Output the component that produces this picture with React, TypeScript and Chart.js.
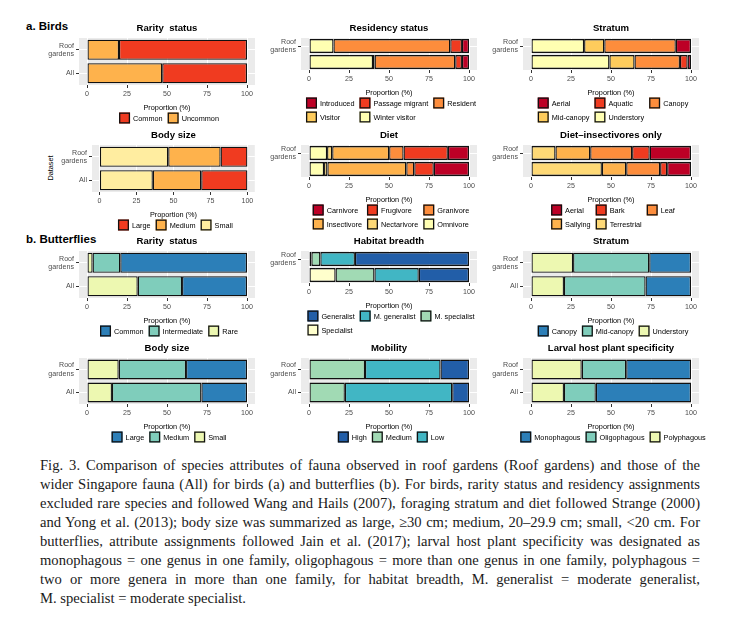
import React, { useEffect, useRef } from "react";
import { Chart, registerables } from "chart.js";
Chart.register(...registerables);

// ---------- shared axis data ----------
const datasetCategories = [["Roof", "gardens"], "All"];
const proportionTicks = [0, 25, 50, 75, 100];
const axisTitle = "Proportion (%)";

// ---------- a. Birds ----------
const birdRarityLevels = ["Common", "Uncommon"];
const birdRarityRoof = [80, 20];
const birdRarityAll = [53, 47];
const birdRarityStack = ["Uncommon", "Common"];

const birdResidencyLevels = ["Introduced", "Passage migrant", "Resident", "Visitor", "Winter visitor"];
const birdResidencyRoof = [4.4, 7.3, 73, 0, 15.3];
const birdResidencyAll = [4.4, 4.2, 50.4, 1, 40];
const birdResidencyStack = ["Winter visitor", "Visitor", "Resident", "Passage migrant", "Introduced"];

const birdStratumLevels = ["Aerial", "Aquatic", "Canopy", "Mid-canopy", "Understory"];
const birdStratumRoof = [9.5, 0, 44.7, 12.6, 33.2];
const birdStratumAll = [2.1, 4.8, 28.4, 15.7, 49];
const birdStratumStack = ["Understory", "Mid-canopy", "Canopy", "Aquatic", "Aerial"];

const birdBodyLevels = ["Large", "Medium", "Small"];
const birdBodyRoof = [18.1, 35.4, 46.5];
const birdBodyAll = [31.2, 32.7, 36.1];
const birdBodyStack = ["Small", "Medium", "Large"];

const birdDietLevels = ["Carnivore", "Frugivore", "Granivore", "Insectivore", "Nectarivore", "Omnivore"];
const birdDietRoof = [13.2, 27.7, 9, 35.6, 3.2, 11.3];
const birdDietAll = [22, 12.2, 5, 49.3, 2.1, 9.4];
const birdDietStack = ["Omnivore", "Nectarivore", "Insectivore", "Granivore", "Frugivore", "Carnivore"];

const birdInsectLevels = ["Aerial", "Bark", "Leaf", "Sallying", "Terrestrial"];
const birdInsectRoof = [25.8, 11, 26.2, 21.7, 15.3];
const birdInsectAll = [14.9, 4.4, 21.2, 15.2, 44.3];
const birdInsectStack = ["Terrestrial", "Sallying", "Leaf", "Bark", "Aerial"];

// ---------- b. Butterflies ----------
const butRarityLevels = ["Common", "Intermediate", "Rare"];
const butRarityRoof = [79.2, 17.3, 3.5];
const butRarityAll = [40.6, 27.7, 31.7];
const butRarityStack = ["Rare", "Intermediate", "Common"];

const butHabitatLevels = ["Generalist", "M. generalist", "M. specialist", "Specialist"];
const butHabitatRoof = [71.3, 21.6, 5.6, 1.5];
const butHabitatAll = [31.4, 27.7, 24.3, 16.6];
const butHabitatStack = ["Specialist", "M. specialist", "M. generalist", "Generalist"];

const butStratumLevels = ["Canopy", "Mid-canopy", "Understory"];
const butStratumRoof = [26.1, 47.6, 26.3];
const butStratumAll = [28.4, 51, 20.6];
const butStratumStack = ["Understory", "Mid-canopy", "Canopy"];

const butBodyLevels = ["Large", "Medium", "Small"];
const butBodyRoof = [38.1, 42.1, 19.8];
const butBodyAll = [28.5, 55.9, 15.6];
const butBodyStack = ["Small", "Medium", "Large"];

const butMobilityLevels = ["High", "Medium", "Low"];
const butMobilityRoof = [17.8, 35, 47.2];
const butMobilityAll = [10.5, 22.4, 67.1];
const butMobilityStack = ["Medium", "Low", "High"];

const butLarvalLevels = ["Monophagous", "Oligophagous", "Polyphagous"];
const butLarvalRoof = [40.5, 27.8, 31.7];
const butLarvalAll = [59.5, 19.9, 20.6];
const butLarvalStack = ["Polyphagous", "Oligophagous", "Monophagous"];

// ---------- colours (styles) ----------
const birdRarityColors = ["#F03B20", "#FEB24C"];
const birdResidencyColors = ["#BD0026", "#F03B20", "#FD8D3C", "#FECC5C", "#FFFFB2"];
const birdStratumColors = ["#BD0026", "#F03B20", "#FD8D3C", "#FECC5C", "#FFFFB2"];
const birdBodyColors = ["#F03B20", "#FEB24C", "#FFEDA0"];
const birdDietColors = ["#BD0026", "#F03B20", "#FD8D3C", "#FEB24C", "#FED976", "#FFFFB2"];
const birdInsectColors = ["#BD0026", "#F03B20", "#FD8D3C", "#FEB24C", "#FED976"];
const butRarityColors = ["#2C7FB8", "#7FCDBB", "#EDF8B1"];
const butHabitatColors = ["#225EA8", "#41B6C4", "#A1DAB4", "#FFFFCC"];
const butStratumColors = ["#2C7FB8", "#7FCDBB", "#EDF8B1"];
const butBodyColors = ["#2C7FB8", "#7FCDBB", "#EDF8B1"];
const butMobilityColors = ["#225EA8", "#A1DAB4", "#41B6C4"];
const butLarvalColors = ["#2C7FB8", "#7FCDBB", "#EDF8B1"];

const panels = [
  { title: "Rarity  status", levels: birdRarityLevels, roof: birdRarityRoof, all: birdRarityAll, stack: birdRarityStack, colors: birdRarityColors },
  { title: "Residency status", levels: birdResidencyLevels, roof: birdResidencyRoof, all: birdResidencyAll, stack: birdResidencyStack, colors: birdResidencyColors },
  { title: "Stratum", levels: birdStratumLevels, roof: birdStratumRoof, all: birdStratumAll, stack: birdStratumStack, colors: birdStratumColors },
  { title: "Body size", levels: birdBodyLevels, roof: birdBodyRoof, all: birdBodyAll, stack: birdBodyStack, colors: birdBodyColors },
  { title: "Diet", levels: birdDietLevels, roof: birdDietRoof, all: birdDietAll, stack: birdDietStack, colors: birdDietColors },
  { title: "Diet\u2013insectivores only", levels: birdInsectLevels, roof: birdInsectRoof, all: birdInsectAll, stack: birdInsectStack, colors: birdInsectColors },
  { title: "Rarity  status", levels: butRarityLevels, roof: butRarityRoof, all: butRarityAll, stack: butRarityStack, colors: butRarityColors },
  { title: "Habitat breadth", levels: butHabitatLevels, roof: butHabitatRoof, all: butHabitatAll, stack: butHabitatStack, colors: butHabitatColors },
  { title: "Stratum", levels: butStratumLevels, roof: butStratumRoof, all: butStratumAll, stack: butStratumStack, colors: butStratumColors },
  { title: "Body size", levels: butBodyLevels, roof: butBodyRoof, all: butBodyAll, stack: butBodyStack, colors: butBodyColors },
  { title: "Mobility", levels: butMobilityLevels, roof: butMobilityRoof, all: butMobilityAll, stack: butMobilityStack, colors: butMobilityColors },
  { title: "Larval host plant specificity", levels: butLarvalLevels, roof: butLarvalRoof, all: butLarvalAll, stack: butLarvalStack, colors: butLarvalColors },
];

// ---------- layout (positions / sizes) ----------
const panelLayout = [
  { left: 79, w: 176, top: 38, h: 47 }, { left: 301, w: 176, top: 38, h: 32 }, { left: 523, w: 176, top: 38, h: 32 },
  { left: 91.6, w: 162.8, top: 145, h: 47 }, { left: 301, w: 176, top: 145, h: 32 }, { left: 523, w: 176, top: 145, h: 32 },
  { left: 79, w: 176, top: 251, h: 47 }, { left: 301, w: 176, top: 251, h: 32 }, { left: 523, w: 176, top: 251, h: 47 },
  { left: 79, w: 176, top: 358, h: 46 }, { left: 301, w: 176, top: 358, h: 46 }, { left: 523, w: 176, top: 358, h: 46 },
];
const YAXIS_W = 50;
const PAD_R = 8;
const PAD_T = 20;
const XAXIS_H = 14;
const SANS = '"Liberation Sans", Arial, sans-serif';

const captionLines = [
  "Fig. 3. Comparison of species attributes of fauna observed in roof gardens (Roof gardens) and those of the",
  "wider Singapore fauna (All) for birds (a) and butterflies (b). For birds, rarity status and residency assignments",
  "excluded rare species and followed Wang and Hails (2007), foraging stratum and diet followed Strange (2000)",
  "and Yong et al. (2013); body size was summarized as large, \u226530 cm; medium, 20\u201329.9 cm; small, <20 cm. For",
  "butterflies, attribute assignments followed Jain et al. (2017); larval host plant specificity was designated as",
  "monophagous = one genus in one family, oligophagous = more than one genus in one family, polyphagous =",
  "two or more genera in more than one family, for habitat breadth, M. generalist = moderate generalist,",
  "M. specialist = moderate specialist.",
];

function makeDecor(title: string, labels: string[], colors: string[]) {
  return {
    id: "ggDecor",
    beforeDraw(chart: any) {
      const { ctx, chartArea: a } = chart;
      ctx.save();
      ctx.fillStyle = "#EBEBEB";
      ctx.fillRect(a.left, a.top, a.right - a.left, a.bottom - a.top);
      ctx.restore();
    },
    afterDraw(chart: any) {
      const { ctx, chartArea: a } = chart;
      const cx = (a.left + a.right) / 2;
      ctx.save();
      ctx.textBaseline = "middle";
      ctx.textAlign = "center";
      ctx.fillStyle = "#000";
      ctx.font = `bold 9.6px ${SANS}`;
      ctx.fillText(title, cx, a.top - 10);
      ctx.font = `7.3px ${SANS}`;
      ctx.fillText(axisTitle, cx, a.bottom + 23);
      // legend (ggplot style, row-major, up to 3 columns)
      const n = labels.length;
      const ncol = Math.min(3, n);
      const nrow = Math.ceil(n / ncol);
      const KEY = 11, GAP = 3, COLGAP = 5;
      const colW: number[] = [];
      for (let c = 0; c < ncol; c++) {
        let w = 0;
        for (let r = 0; r < nrow; r++) {
          const i = r * ncol + c;
          if (i < n) w = Math.max(w, ctx.measureText(labels[i]).width);
        }
        colW.push(KEY + GAP + w);
      }
      const total = colW.reduce((s, v) => s + v, 0) + COLGAP * (ncol - 1);
      const x0 = cx - total / 2 + 2;
      ctx.textAlign = "left";
      for (let i = 0; i < n; i++) {
        const r = Math.floor(i / ncol), c = i % ncol;
        let x = x0;
        for (let k = 0; k < c; k++) x += colW[k] + COLGAP;
        const y = a.bottom + 33 + r * 14;
        ctx.fillStyle = colors[i];
        ctx.fillRect(x, y - KEY / 2, KEY, KEY);
        ctx.strokeStyle = "#111";
        ctx.lineWidth = 1.3;
        ctx.strokeRect(x + 0.65, y - KEY / 2 + 0.65, KEY - 1.3, KEY - 1.3);
        ctx.fillStyle = "#000";
        ctx.fillText(labels[i], x + KEY + GAP, y + 0.5);
      }
      ctx.restore();
    },
  };
}

function Panel({ index }: { index: number }) {
  const ref = useRef<HTMLCanvasElement>(null);
  const p = panels[index];
  const lay = panelLayout[index];
  const rows = Math.ceil(p.levels.length / 3);
  const below = rows === 1 ? 44 : 58;
  const W = Math.round(YAXIS_W + lay.w + PAD_R);
  const H = PAD_T + lay.h + below;
  const left = lay.left - YAXIS_W;
  const top = lay.top - PAD_T;
  const padR = W - YAXIS_W - lay.w;

  useEffect(() => {
    if (!ref.current) return;
    const datasets = p.stack.map((name) => {
      const i = p.levels.indexOf(name);
      return {
        label: name,
        data: [p.roof[i], p.all[i]],
        backgroundColor: p.colors[i],
        borderColor: "#111",
        borderWidth: 1.3,
        borderSkipped: false,
        barPercentage: 0.86,
        categoryPercentage: 1,
      };
    });
    const chart = new Chart(ref.current, {
      type: "bar",
      data: { labels: datasetCategories as any, datasets: datasets as any },
      options: {
        indexAxis: "y",
        animation: false,
        responsive: false,
        events: [],
        layout: { padding: { top: PAD_T, left: 0, right: padR, bottom: below - XAXIS_H } },
        plugins: { legend: { display: false }, tooltip: { enabled: false }, title: { display: false } },
        scales: {
          x: {
            type: "linear",
            stacked: true,
            min: -5,
            max: 105,
            afterBuildTicks: (s: any) => {
              s.ticks = proportionTicks.map((v) => ({ value: v }));
            },
            afterFit: (s: any) => {
              s.height = XAXIS_H;
            },
            ticks: { font: { family: SANS, size: 7.1 }, color: "#4D4D4D", padding: 2, maxRotation: 0, autoSkip: false },
            grid: { color: "#FFFFFF", lineWidth: 1, tickColor: "#333333", tickLength: 3, drawTicks: true },
            border: { display: false },
          },
          y: {
            type: "category",
            stacked: true,
            offset: true,
            afterFit: (s: any) => {
              s.width = YAXIS_W;
            },
            ticks: { font: { family: SANS, size: 7.1, lineHeight: 1.15 }, color: "#4D4D4D", padding: 2 },
            grid: { color: "#FFFFFF", offset: false, lineWidth: 1, tickColor: "#333333", tickLength: 3, drawTicks: true },
            border: { display: false },
          },
        },
      } as any,
      plugins: [makeDecor(p.title, p.levels, p.colors)],
    });
    return () => chart.destroy();
  }, []);

  return (
    <canvas
      ref={ref}
      width={W}
      height={H}
      style={{ position: "absolute", left, top, width: W, height: H }}
    />
  );
}

export default function App() {
  return (
    <div style={{ position: "absolute", left: 0, top: 0, width: 738, height: 621, background: "#FFFFFF", overflow: "hidden" }}>
      <div style={{ position: "absolute", left: 26, top: 20, font: `bold 11.5px ${SANS}`, color: "#000" }}>a. Birds</div>
      <div style={{ position: "absolute", left: 26, top: 233, font: `bold 11.5px ${SANS}`, color: "#000" }}>b. Butterflies</div>
      <div
        style={{
          position: "absolute",
          left: 50,
          top: 168,
          font: `7.3px ${SANS}`,
          color: "#000",
          transform: "translate(-50%, -50%) rotate(-90deg)",
          whiteSpace: "nowrap",
        }}
      >
        Dataset
      </div>
      {panels.map((_, i) => (
        <Panel key={i} index={i} />
      ))}
      <div
        style={{
          position: "absolute",
          left: 40,
          top: 456,
          width: 660,
          fontFamily: '"Liberation Serif", "Times New Roman", serif',
          fontSize: 14.6,
          lineHeight: "19px",
          color: "#1a1a1a",
        }}
      >
        {captionLines.map((line, i) => (
          <div
            key={i}
            style={{
              textAlign: i < captionLines.length - 1 ? "justify" : "left",
              textAlignLast: i < captionLines.length - 1 ? "justify" : "left",
            }}
          >
            {line}
          </div>
        ))}
      </div>
    </div>
  );
}
